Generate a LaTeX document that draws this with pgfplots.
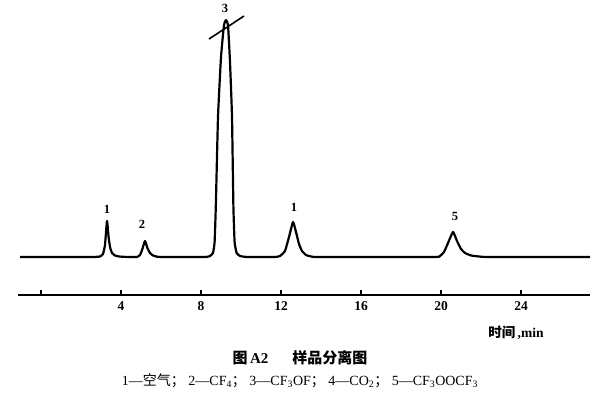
\documentclass[border=0pt]{standalone}
\usepackage{fontspec}
\usepackage{pgfplots}
\pgfplotsset{compat=1.18}
\setmainfont{Liberation Serif}
\newfontfamily\cjk{Noto Sans CJK SC}

\begin{document}
\begin{tikzpicture}
\begin{axis}[
  scale only axis,
  width=572pt, height=295pt,
  xmin=-1.15, xmax=27.45,
  ymin=-38, ymax=257,
  axis x line=bottom,
  axis y line=none,
  clip=false,
  axis line style={line width=1.6pt, -},
  xtick={0,4,8,12,16,20,24},
  xticklabels={,4,8,12,16,20,24},
  tick align=inside,
  major tick length=5pt,
  tick style={line width=1.4pt, black},
  /pgf/number format/assume math mode=true,
  xticklabel style={font=\bfseries\fontsize{13.5}{13.5}\selectfont, yshift=-3pt},
]
% chromatogram trace (time in min, detector response)
\addplot[black, line width=2.2pt, line join=round, smooth, tension=0.25] coordinates {
  (-1.05,0) (1.0,0) (2.6,0) (2.95,0.5) (3.1,3) (3.2,12) (3.3,36) (3.38,20) (3.45,10)
  (3.55,4) (3.7,1.5) (3.9,0.5) (4.3,0)
  (4.8,0) (4.95,2) (5.07,8) (5.2,16) (5.32,9) (5.45,4) (5.6,1.5) (5.8,0.3) (6.1,0)
  (8.2,0) (8.45,1) (8.6,4) (8.68,15) (8.74,50) (8.85,140) (9.0,200) (9.15,232)
  (9.25,237) (9.35,232) (9.45,195) (9.55,140) (9.62,50) (9.68,15) (9.78,4) (9.95,1) (10.3,0)
  (11.7,0) (11.95,1) (12.2,6) (12.4,20) (12.6,35) (12.75,25) (12.9,13) (13.05,6)
  (13.25,2) (13.5,0.5) (13.9,0)
  (19.6,0) (19.95,1) (20.15,5) (20.35,14) (20.6,25) (20.8,16) (21.0,8) (21.2,4)
  (21.5,1.5) (21.9,0.5) (22.4,0) (27.45,0)
};
% off-scale mark on peak 3
\draw[line width=1.6pt] (axis cs:8.4,218) -- (axis cs:10.15,241);
% peak labels
\begin{scope}[every node/.style={font=\bfseries\fontsize{12.5}{12.5}\selectfont, inner sep=0pt}]
\node at (axis cs:3.3,48) {1};
\node at (axis cs:5.05,33) {2};
\node at (axis cs:9.2,249) {3};
\node at (axis cs:12.65,50) {1};
\node at (axis cs:20.7,41) {5};
\end{scope}
\node[inner sep=0pt, font=\fontsize{13.5}{13.5}\selectfont] at (axis cs:23.75,-76) {{\cjk\bfseries 时间}\,\textbf{,min}};
\node[inner sep=0pt, font=\fontsize{15}{15}\selectfont] at (axis cs:12.95,-101) {{\cjk\bfseries 图\,}\textbf{A2}\hspace{1.6em}{\cjk\bfseries 样品分离图}};
\node[inner sep=0pt, font=\fontsize{14}{14}\selectfont] at (axis cs:12.95,-124)
  {1—{\cjk 空气；}\ 2—CF\textsubscript{4}{\cjk ；}\ 3—CF\textsubscript{3}OF{\cjk ；}\ 4—CO\textsubscript{2}{\cjk ；}\ 5—CF\textsubscript{3}OOCF\textsubscript{3}};
\coordinate (bbl) at (axis cs:-2.05,-143);
\coordinate (btr) at (axis cs:27.95,257);
\end{axis}
\pgfresetboundingbox
\path (bbl) rectangle (btr);
\end{tikzpicture}
\end{document}
